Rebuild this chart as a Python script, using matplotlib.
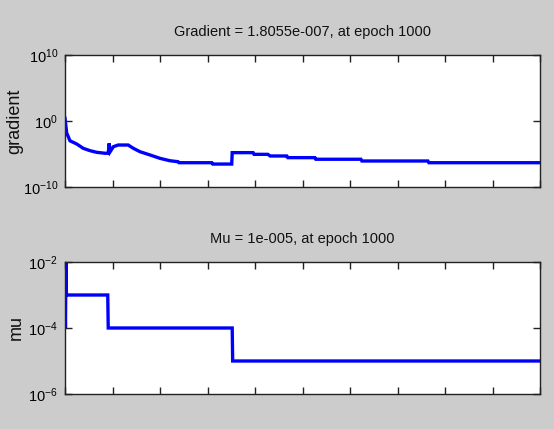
import matplotlib
matplotlib.use("Agg")
import matplotlib.pyplot as plt
import numpy as np

plt.rcParams['font.family'] = ['Liberation Sans', 'DejaVu Sans']
plt.rcParams['mathtext.fontset'] = 'custom'
plt.rcParams['mathtext.rm'] = 'Liberation Sans'
plt.rcParams['mathtext.it'] = 'Liberation Sans'
plt.rcParams['axes.unicode_minus'] = False

# ---- data ----
grad_epochs = [0, 3.6, 10.5, 24.6, 38.5, 52.6, 66.7, 84, 91, 93, 95, 102, 112, 133,
               144, 158, 179, 200, 221, 238, 240, 309, 311, 351, 352, 396, 398, 427,
               432, 467, 469, 526, 528, 623, 625, 764, 766, 1000]
grad_values = [2.6, 1.5e-2, 1.0e-3, 3.3e-4, 7.2e-5, 3.2e-5, 1.8e-5, 1.3e-5, 1.3e-5,
               4.2e-4, 2.2e-5, 1.3e-4, 2.3e-4, 2.3e-4, 7.2e-5, 2.2e-5, 7.1e-6,
               2.2e-6, 9.5e-7, 6.8e-7, 4.8e-7, 4.8e-7, 3.0e-7, 3.0e-7, 1.6e-5,
               1.6e-5, 8.9e-6, 8.9e-6, 5.0e-6, 5.0e-6, 2.8e-6, 2.8e-6, 1.6e-6,
               1.6e-6, 8.7e-7, 8.7e-7, 4.8e-7, 4.8e-7]

mu_epochs = [0, 1, 2, 3, 90, 91, 352, 353, 1000]
mu_values = [1e-3, 1e-4, 1e-2, 1e-3, 1e-3, 1e-4, 1e-4, 1e-5, 1e-5]

grad_title = "Gradient = 1.8055e-007, at epoch 1000"
mu_title = "Mu = 1e-005, at epoch 1000"
grad_yticks = [1e-10, 1e0, 1e10]
mu_yticks = [1e-6, 1e-4, 1e-2]
x_ticks = list(range(0, 1001, 100))

W, H = 554, 429
fig = plt.figure(figsize=(W / 100, H / 100), dpi=100, facecolor='#cccccc')

def px_axes(left, top, right, bottom):
    return fig.add_axes([left / W, 1 - bottom / H, (right - left) / W, (bottom - top) / H])

ax1 = px_axes(65, 55, 540, 187)
ax2 = px_axes(65, 262, 540, 394)

line_kw = dict(color='#0000ff', lw=2.4, solid_joinstyle='miter')
ax1.plot(grad_epochs, grad_values, **line_kw)
ax2.plot(mu_epochs, mu_values, **line_kw)

def fmt(v, pos):
    e = int(round(np.log10(v)))
    return r'$\mathdefault{10^{%d}}$' % e

for ax, yt, ylim, title, ylabel, lx in [
        (ax1, grad_yticks, (1e-10, 1e10), grad_title, 'gradient', -0.088),
        (ax2, mu_yticks, (1e-6, 1e-2), mu_title, 'mu', -0.084)]:
    ax.set_facecolor('white')
    ax.set_yscale('log')
    ax.set_xlim(0, 1000)
    ax.set_ylim(*ylim)
    ax.set_xticks(x_ticks)
    ax.set_xticklabels([])
    ax.set_yticks(yt)
    ax.yaxis.set_major_formatter(matplotlib.ticker.FuncFormatter(fmt))
    ax.yaxis.set_minor_locator(matplotlib.ticker.NullLocator())
    ax.tick_params(axis='both', which='major', direction='in', length=5, width=1,
                   color='#222222', top=True, right=True, labelsize=10.5, pad=5)
    for s in ax.spines.values():
        s.set_color('#222222')
        s.set_linewidth(1.0)
    ax.set_title(title, fontsize=10.5, pad=14, color='#111111')
    ax.set_ylabel(ylabel, fontsize=13, color='#111111')
    ax.yaxis.set_label_coords(lx, 0.5)

fig.savefig('out.png', dpi=100, facecolor=fig.get_facecolor())
